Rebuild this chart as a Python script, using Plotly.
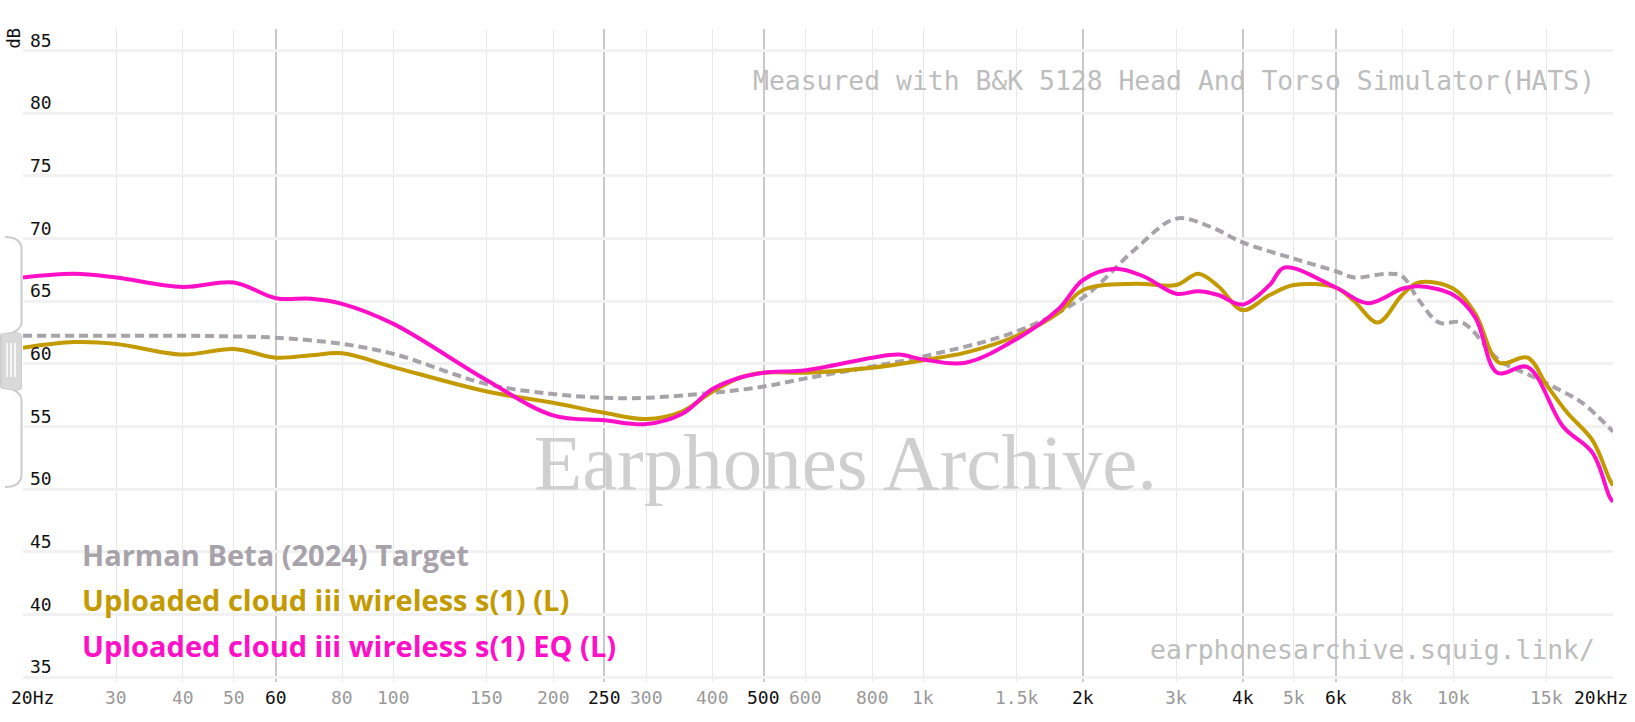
import numpy as np
import plotly.graph_objects as go

W, H = 1635, 722
L, R, T, B = 23, 22, 29, 40
PW = W - L - R
PH = H - T - B


def px(x):
    return (x - L) / PW


def py(y):
    return (H - B - y) / PH


# ---------------- data ----------------
target_freq = [20, 30, 40, 50, 60, 80, 100, 150, 200, 250, 300, 400, 500, 600, 800, 1000,
               1500, 2000, 2500, 3000, 3500, 4000, 5000, 6000, 6500, 7500, 8000, 8600, 9400,
               10400, 12200, 14100, 15900, 17500, 20000]
target_db = [62.25, 62.25, 62.25, 62.2, 62.1, 61.6, 60.8, 58.4, 57.6, 57.3, 57.3, 57.7, 58.2,
             58.85, 59.8, 60.6, 62.6, 65.3, 69.1, 71.6, 70.9, 69.7, 68.4, 67.4, 66.9, 67.2,
             67.0, 65.1, 63.3, 63.3, 60.3, 59.0, 57.9, 56.9, 54.6]

raw_freq = [20, 25, 30, 40, 50, 60, 70, 80, 100, 150, 200, 250, 300, 350, 400, 450, 500, 600,
            800, 1000, 1200, 1500, 1800, 2000, 2500, 3000, 3300, 3600, 4000, 4500, 5000, 6000,
            6500, 7200, 8000, 8600, 10000, 11000, 12200, 13800, 15000, 16400, 18300, 19700, 20000]
raw_db = [61.3, 61.75, 61.6, 60.75, 61.2, 60.5, 60.7, 60.85, 59.75, 57.8, 56.9, 56.1, 55.6,
          56.2, 57.8, 58.9, 59.3, 59.3, 59.7, 60.3, 60.9, 62.25, 64.1, 65.9, 66.4, 66.3, 67.2,
          66.2, 64.3, 65.5, 66.3, 66.1, 65.0, 63.3, 65.5, 66.5, 66.0, 64.0, 60.1, 60.5, 58.3,
          56.1, 53.9, 50.8, 50.3]

eq_freq = [20, 25, 30, 40, 50, 60, 70, 80, 100, 150, 200, 250, 300, 350, 400, 450, 500, 600,
           800, 900, 1000, 1200, 1500, 1800, 2000, 2300, 2600, 3000, 3300, 3600, 4000, 4500,
           4800, 6000, 6900, 8000, 8600, 10000, 11000, 12100, 13800, 16100, 18300, 19700, 20000]
eq_db = [66.9, 67.2, 66.9, 66.15, 66.5, 65.25, 65.2, 64.8, 63.2, 58.7, 55.9, 55.5, 55.2, 56.0,
         58.0, 58.9, 59.3, 59.5, 60.5, 60.75, 60.35, 60.1, 62.0, 64.4, 66.7, 67.6, 67.0, 65.6,
         65.8, 65.5, 64.75, 66.3, 67.7, 66.1, 64.85, 66.0, 66.2, 65.5, 63.7, 59.3, 59.75, 55.0,
         52.9, 49.4, 49.0]

names = ["Harman Beta (2024) Target",
         "Uploaded cloud iii wireless s(1) (L)",
         "Uploaded cloud iii wireless s(1) EQ (L)"]
colors = ["#a8a2ab", "#c39a00", "#ff10c8"]

major_ticks = [20, 60, 250, 500, 2000, 4000, 6000, 20000]
major_labels = ["20Hz", "60", "250", "500", "2k", "4k", "6k", "20kHz"]
minor_ticks = [30, 40, 50, 80, 100, 150, 200, 300, 400, 600, 800, 1000, 1500, 3000, 5000,
               8000, 10000, 15000]
minor_labels = ["30", "40", "50", "80", "100", "150", "200", "300", "400", "600", "800", "1k",
                "1.5k", "3k", "5k", "8k", "10k", "15k"]
y_ticks = [35, 40, 45, 50, 55, 60, 65, 70, 75, 80, 85]

# ---------------- figure ----------------
fig = go.Figure()

fig.add_trace(go.Scatter(x=target_freq, y=target_db, mode="lines", name=names[0],
                         line=dict(color=colors[0], width=4, dash="9px,5px", shape="spline"),
                         hoverinfo="skip"))
fig.add_trace(go.Scatter(x=raw_freq, y=raw_db, mode="lines", name=names[1],
                         line=dict(color=colors[1], width=4, shape="spline"), hoverinfo="skip"))
fig.add_trace(go.Scatter(x=eq_freq, y=eq_db, mode="lines", name=names[2],
                         line=dict(color=colors[2], width=4, shape="spline"), hoverinfo="skip"))

mono = "DejaVu Sans Mono"
ann = []
# x tick labels
for f, lab in zip(major_ticks, major_labels):
    xa = "center"
    xs = 0
    if lab == "20Hz":
        xa, xs = "left", -14
    if lab == "20kHz":
        xa, xs = "right", 17
    ann.append(dict(x=np.log10(f), y=py(697), xref="x", yref="paper", text=lab,
                    showarrow=False, xanchor=xa, yanchor="middle", xshift=xs,
                    font=dict(family=mono, size=18, color="#111111")))
for f, lab in zip(minor_ticks, minor_labels):
    ann.append(dict(x=np.log10(f), y=py(697), xref="x", yref="paper", text=lab,
                    showarrow=False, xanchor="center", yanchor="middle",
                    font=dict(family=mono, size=18, color="#999999")))
# y tick labels
for v in y_ticks:
    ann.append(dict(x=0, y=v, xref="paper", yref="y", text=str(v), showarrow=False,
                    xanchor="left", yanchor="bottom", xshift=5, yshift=-2,
                    font=dict(family=mono, size=18, color="#111111")))
# dB label
ann.append(dict(x=px(13.5), y=py(39), xref="paper", yref="paper", text="dB", textangle=-90,
                showarrow=False, xanchor="center", yanchor="middle",
                font=dict(family=mono, size=17, color="#111111")))
# watermarks
ann.append(dict(x=px(1597), y=py(81), xref="paper", yref="paper",
                text="Measured with B&K 5128 Head And Torso Simulator(HATS)", showarrow=False,
                xanchor="right", yanchor="middle",
                font=dict(family=mono, size=26.4, color="#bdbdbd")))
ann.append(dict(x=px(1597), y=py(649), xref="paper", yref="paper",
                text="earphonesarchive.squig.link/", showarrow=False,
                xanchor="right", yanchor="middle",
                font=dict(family=mono, size=26.4, color="#bdbdbd")))
ann.append(dict(x=px(845), y=py(462), xref="paper", yref="paper",
                text="Earphones Archive.", showarrow=False,
                xanchor="center", yanchor="middle",
                font=dict(family="Liberation Serif", size=79, color="#cfcfcf")))
# legend texts
for i, (nm, c) in enumerate(zip(names, colors)):
    ann.append(dict(x=px(80), y=py(554 + 45.5 * i), xref="paper", yref="paper",
                    text="<b>" + nm + "</b>", showarrow=False, xanchor="left",
                    yanchor="middle", font=dict(family="Open Sans", size=29, color=c)))

# left bracket decoration (normalisation handle)
shapes = []
bracket = ("M {a},{b} Q {c},{b} {c},{d} L {c},{e} Q {c},{f} {g},{h} L {g},{i} "
           "Q {c},{j} {c},{k} L {c},{l} Q {c},{m} {a},{m}")
pts = dict(a=px(5), b=py(237), c=px(21.5), d=py(250), e=py(322), f=py(332), g=px(1),
           h=py(336), i=py(386), j=py(390), k=py(400), l=py(474), m=py(487))
shapes.append(dict(type="path", xref="paper", yref="paper",
                   path=bracket.format(**{k: round(v, 5) for k, v in pts.items()}),
                   line=dict(color="#cccccc", width=2)))
shapes.append(dict(type="path", xref="paper", yref="paper",
                   path=("M {0},{1} Q {2},{3} {2},{4} L {2},{5} Q {2},{6} {0},{7} Z").format(
                       round(px(1), 5), round(py(334), 5), round(px(21.5), 5),
                       round(py(330), 5), round(py(336), 5), round(py(388), 5),
                       round(py(392), 5), round(py(388), 5)),
                   fillcolor="#d9d9d9", line=dict(color="#cccccc", width=1)))
for xx in [7, 11, 15]:
    shapes.append(dict(type="line", xref="paper", yref="paper", x0=px(xx), x1=px(xx),
                       y0=py(343), y1=py(377), line=dict(color="#ffffff", width=1.5)))

fig.update_layout(
    width=W, height=H, autosize=False,
    margin=dict(l=L, r=R, t=T, b=B, pad=0),
    paper_bgcolor="white", plot_bgcolor="white",
    showlegend=False,
    annotations=ann, shapes=shapes,
    xaxis=dict(type="log", range=[np.log10(20), np.log10(20000)], tickmode="array",
               tickvals=major_ticks, showticklabels=False, ticks="",
               showgrid=True, gridcolor="#c9c9c9", gridwidth=1.5, zeroline=False,
               showline=False,
               minor=dict(tickmode="array", tickvals=minor_ticks, showgrid=True,
                          gridcolor="#e8e8e8", gridwidth=1, ticks="")),
    yaxis=dict(range=[34.62, 86.73], tickmode="array", tickvals=y_ticks,
               showticklabels=False, ticks="", showgrid=True, gridcolor="#f1f1f1",
               gridwidth=3, zeroline=False, showline=False),
)

fig.write_html("out.html", config={"displayModeBar": False},
               post_script="document.body.style.margin='0';")
